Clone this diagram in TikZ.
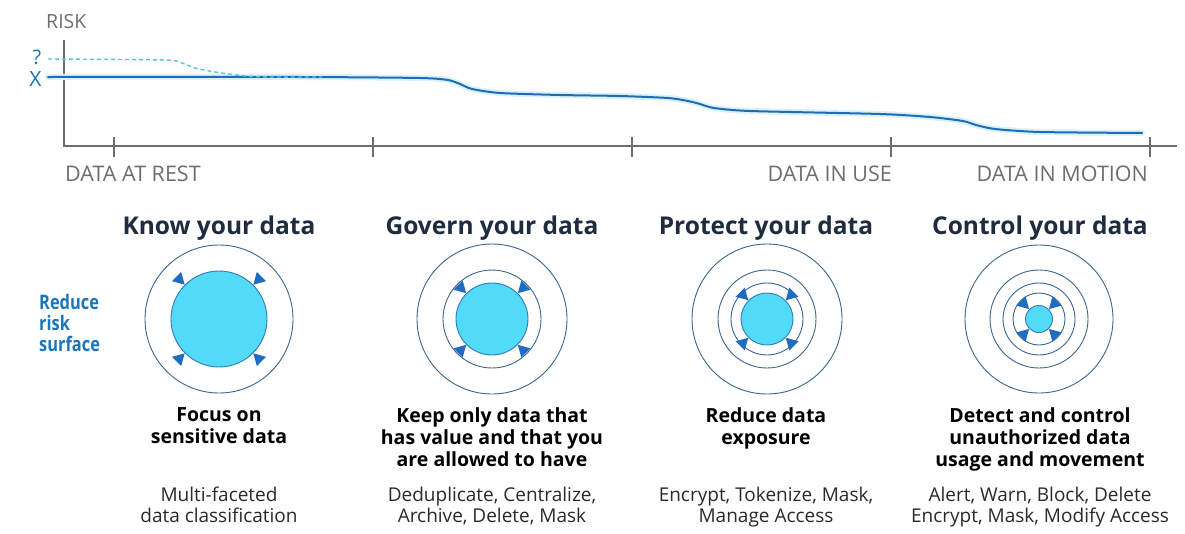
\documentclass[tikz,border=0pt]{standalone}
\usepackage{fontspec}
\setmainfont{Open Sans}
\newfontfamily\rrsfont[FakeStretch=0.82]{Open Sans}
\definecolor{axisgray}{HTML}{6E6E6E}
\definecolor{riskblue}{HTML}{1E6DB4}
\definecolor{glow}{HTML}{D8F1FB}
\definecolor{dashcyan}{HTML}{5CC3DD}
\definecolor{navy}{HTML}{1F2B3F}
\definecolor{ringblue}{HTML}{3A6690}
\definecolor{corecyan}{HTML}{52DBF8}
\definecolor{corerim}{HTML}{2F7CB8}
\definecolor{tri}{HTML}{1F6CC0}
\definecolor{labelblue}{HTML}{1B75BB}
\definecolor{bodygray}{HTML}{2A2A2A}
\begin{document}
\begin{tikzpicture}[x=1pt,y=-1pt,
  axislbl/.style={font=\fontsize{21.5}{24}\selectfont, text=axisgray, inner sep=0pt},
  axisline/.style={draw=axisgray, line width=1.4pt},
  title/.style={font=\bfseries\fontsize{24.5}{28}\selectfont, text=navy, inner sep=0pt},
  desc/.style={font=\bfseries\fontsize{19.5}{22}\selectfont, text=black, align=center, inner sep=0pt, anchor=north},
  how/.style={font=\fontsize{19}{21}\selectfont, text=bodygray, align=center, inner sep=0pt, anchor=north},
  ring/.style={draw=ringblue, line width=0.9pt},
  core/.style={draw=corerim, line width=0.9pt, fill=corecyan},
  trishape/.style={fill=tri, draw=none}
]
\useasboundingbox (0,0) rectangle (1185,533);
\fill[white] (0,0) rectangle (1185,533);

% axes
\coordinate (ytop) at (64,40);
\coordinate (orig) at (64,146);
\coordinate (xend) at (1177,146);
\draw[axisline] (ytop) -- (orig) -- (xend);
\foreach \x/\n in {114/t1,373/t2,632/t3,891/t4,1150/t5}{
  \coordinate (\n a) at (\x,137);
  \coordinate (\n b) at (\x,157);
  \draw[axisline] (\n a) -- (\n b);
}
\node[axislbl, font=\fontsize{19.5}{22}\selectfont, anchor=base west] (risk) at (46,28) {RISK};
\node[axislbl, anchor=base west] (rest) at (65,181) {DATA AT REST};
\node[axislbl, anchor=base east] (use) at (892,181) {DATA IN USE};
\node[axislbl, anchor=base east] (motion) at (1148,181) {DATA IN MOTION};
\node[font=\fontsize{20}{22}\selectfont, text=labelblue, inner sep=0pt] (q) at (37,57.5) {?};
\node[font=\fontsize{21}{22}\selectfont, text=labelblue, inner sep=0pt] (xl) at (35.5,79.5) {X};

% risk curve
\def\riskpts{(48,77) (300,77) (420,78) (448,80) (460,84) (472,89) (500,93) (560,95) (620,96) (668,98) (688,101) (700,104) (714,108) (750,111) (880,114) (930,117) (963,121) (976,125) (995,129) (1040,132) (1142,133)}
\draw[glow, line width=6pt, line cap=round] plot[smooth, tension=0.4] coordinates {\riskpts};
\draw[riskblue, line width=2pt, line cap=round] plot[smooth, tension=0.4] coordinates {\riskpts};
\draw[dashcyan, line width=1.4pt, dash pattern=on 4pt off 3pt] plot[smooth, tension=0.4] coordinates {(48,59) (165,60) (182,63) (195,68) (215,72) (245,76) (270,77) (322,77)};

% titles
\node[title] (h1) at (219,228) {Know your data};
\node[title] (h2) at (492,228) {Govern your data};
\node[title] (h3) at (766,228) {Protect your data};
\node[title] (h4) at (1040,228) {Control your data};

\node[font=\rrsfont\bfseries\fontsize{20}{21}\selectfont, text=labelblue, align=left, anchor=north west, inner sep=0pt] (rrs) at (39,294) {Reduce\\risk\\surface};

% circles
\foreach \cx/\rings/\rc in {219/{74}/48, 492/{75,49}/36, 767/{75,49,36}/26, 1039/{74,49,36,26}/13.5}{
  \begin{scope}[shift={(\cx,319)}]
    \foreach \r in \rings { \draw[ring] (0,0) circle[radius=\r]; }
    \draw[core] (0,0) circle[radius=\rc];
    \foreach \a in {45,135,225,315}{
      \fill[trishape, rotate=\a] (\rc+0.5,0) -- (\rc+12,-6.5) -- (\rc+12,6.5) -- cycle;
    }
  \end{scope}
}

% descriptions
\node[desc] (d1) at (219,407) {Focus on\\sensitive data};
\node[desc] (d2) at (492,407) {Keep only data that\\has value and that you\\are allowed to have};
\node[desc] (d3) at (766,407) {Reduce data\\exposure};
\node[desc] (d4) at (1040,407) {Detect and control\\unauthorized data\\usage and movement};

\node[how] (m1) at (219,487) {Multi-faceted\\data classification};
\node[how] (m2) at (492,487) {Deduplicate, Centralize,\\Archive, Delete, Mask};
\node[how] (m3) at (766,487) {Encrypt, Tokenize, Mask,\\Manage Access};
\node[how] (m4) at (1040,487) {Alert, Warn, Block, Delete\\Encrypt, Mask, Modify Access};
\end{tikzpicture}
\end{document}
